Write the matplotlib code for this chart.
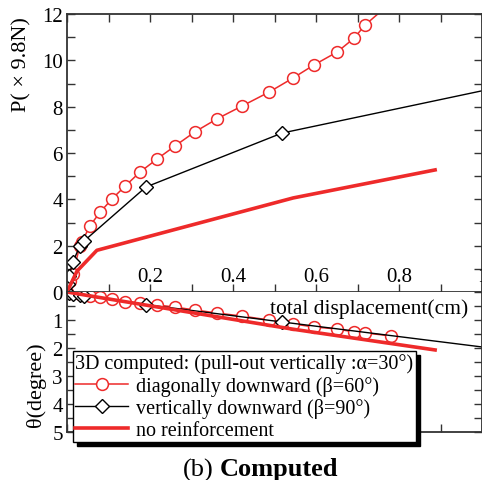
import numpy as np
import matplotlib.pyplot as plt
from matplotlib.ticker import MultipleLocator

plt.rcParams['font.family'] = ['Liberation Serif', 'DejaVu Serif']

# diagonally downward (beta=60) : load P and rotation theta
x_diag = [0, 0.007, 0.014, 0.031, 0.036, 0.055, 0.08, 0.108, 0.14, 0.176, 0.217,
          0.26, 0.308, 0.361, 0.422, 0.487, 0.545, 0.595, 0.651, 0.692, 0.718, 0.781]
p_diag = [0, 0.47, 0.78, 1.99, 2.16, 2.85, 3.45, 4.01, 4.57, 5.18, 5.74,
          6.30, 6.91, 7.47, 8.03, 8.63, 9.24, 9.80, 10.36, 10.96, 11.52, 12.5]
t_diag = [0, 0.02, 0.04, 0.08, 0.10, 0.14, 0.18, 0.25, 0.36, 0.39, 0.46,
          0.54, 0.64, 0.75, 0.86, 1.00, 1.14, 1.25, 1.32, 1.43, 1.46, 1.57]

# vertically downward (beta=90)
x_vert = [0, 0.002, 0.005, 0.014, 0.031, 0.041, 0.19, 0.518, 1.02]
p_vert = [0, 0.35, 0.69, 1.29, 1.99, 2.20, 4.53, 6.86, 8.76]
t_vert = [0, 0.01, 0.03, 0.07, 0.11, 0.13, 0.45, 1.07, 2.00]

# no reinforcement
x_none = [0, 0.024, 0.072, 0.545, 0.887]
p_none = [0, 0.90, 1.80, 4.06, 5.27]
t_none = [0, 0.06, 0.18, 1.33, 2.07]

x_labels = ['0.2', '0.4', '0.6', '0.8', '1']

W, H = 482, 481
fig = plt.figure(figsize=(W / 100, H / 100), dpi=100)
left, right = 67 / W, 1.0
y_top, y_zero, y_bot = 1 - 15 / H, 1 - 293 / H, 1 - 433 / H
ax1 = fig.add_axes([left, y_zero, right - left, y_top - y_zero])
ax2 = fig.add_axes([left, y_bot, right - left, y_zero - y_bot])

spine_c = '#333333'
for ax in (ax1, ax2):
    ax.set_xlim(0, 1)
    for s in ax.spines.values():
        s.set_color(spine_c)
        s.set_linewidth(1.3)
    ax.xaxis.set_minor_locator(MultipleLocator(0.1))
    ax.tick_params(which='both', direction='in', length=6, width=1,
                   color=spine_c, labelsize=15)
ax1.spines['bottom'].set_linewidth(2)
ax2.spines['top'].set_visible(False)

# upper part: load
ax1.plot(x_diag, p_diag, color='#ee2a2a', lw=1.1, marker='o', ms=8.5,
         mfc='white', mec='#ee2a2a', mew=1.1)
ax1.plot(x_vert, p_vert, color='black', lw=1.0, marker='D', ms=7,
         mfc='white', mec='black', mew=1.0)
ax1.plot(x_none, p_none, color='#ee2a2a', lw=2.6)
ax1.set_ylim(0, 12)
ax1.set_yticks(range(0, 13, 2))
ax1.yaxis.set_minor_locator(MultipleLocator(1))
ax1.set_xticks(np.arange(0.2, 1.01, 0.2))
ax1.tick_params(axis='x', which='both', top=True, bottom=True,
                labelbottom=False, labeltop=False)
ax1.tick_params(axis='y', which='both', left=True, right=True, pad=3)

# lower part: rotation angle
l1, = ax2.plot(x_diag, t_diag, color='#ee2a2a', lw=1.1, marker='o', ms=8.5,
               mfc='white', mec='#ee2a2a', mew=1.1)
l2, = ax2.plot(x_vert, t_vert, color='black', lw=1.0, marker='D', ms=7,
               mfc='white', mec='black', mew=1.0)
l3, = ax2.plot(x_none, t_none, color='#ee2a2a', lw=2.6)
ax2.set_ylim(5, 0)
ax2.set_yticks(range(1, 6))
ax2.yaxis.set_minor_locator(MultipleLocator(0.5))
ax2.set_xticks(np.arange(0.2, 1.01, 0.2))
ax2.set_xticklabels(x_labels)
ax2.tick_params(axis='x', which='both', top=False, bottom=True,
                labeltop=True, labelbottom=False, pad=4)
ax2.tick_params(axis='y', which='both', left=True, right=True, pad=3)
ax2.text((369 - 67) / 415, 1 - 16 / 140, 'total displacement(cm)',
         transform=ax2.transAxes, ha='center', va='center', fontsize=15.5)

fig.text(22 / W, 1 - 65 / H, 'P( × 9.8N)', rotation=90, ha='center',
         va='center', fontsize=16)
fig.text(36 / W, 1 - 385 / H, 'θ(degree)', rotation=90, ha='center',
         va='center', fontsize=16)

leg = fig.legend([l1, l2, l3],
                 ['diagonally downward (β=60°)', 'vertically downward (β=90°)',
                  'no reinforcement'],
                 title='3D computed: (pull-out vertically :α=30°)',
                 alignment='left', loc='upper left',
                 bbox_to_anchor=(73 / W, 1 - 352 / H), borderaxespad=0,
                 fontsize=14.5, title_fontsize=14.5, labelspacing=0.12,
                 handlelength=2.6, handletextpad=0.4, borderpad=0.12,
                 fancybox=False, framealpha=1, edgecolor='black',
                 shadow={'color': 'black', 'alpha': 1, 'ox': 3, 'oy': -3})
leg.get_frame().set_linewidth(1.0)

fig.text(214 / W, 1 - 470 / H, '(b)', ha='right', va='center', fontsize=19)
fig.text(220 / W, 1 - 470 / H, 'Computed', ha='left', va='center',
         fontsize=19, fontweight='bold')

fig.savefig('out.png', dpi=100)
